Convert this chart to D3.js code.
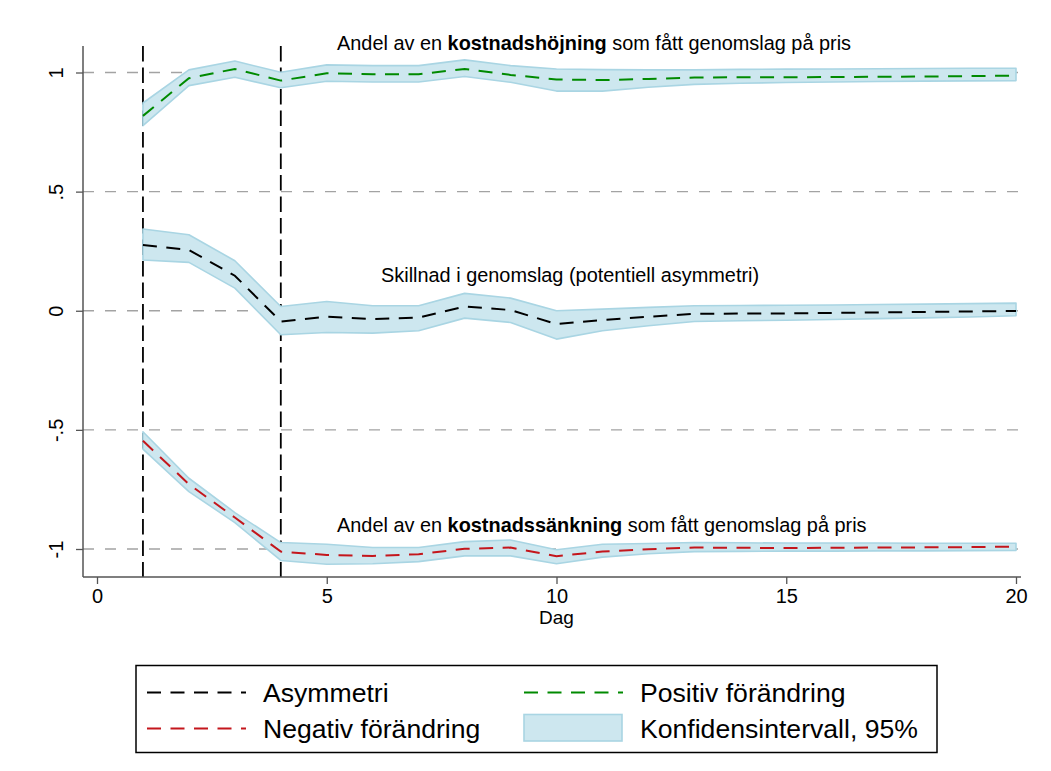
<!DOCTYPE html>
<html>
<head>
<meta charset="utf-8">
<script src="https://cdn.jsdelivr.net/npm/d3@7"></script>
<style>
  html, body { margin: 0; padding: 0; background: #fff; }
  svg { display: block; font-family: "Liberation Sans", Arial, Helvetica, sans-serif; }
</style>
</head>
<body>
<svg id="chart" width="1051" height="771"></svg>
<script>
// Dagar efter kostnadsförändringen
const days = [1, 2, 3, 4, 5, 6, 7, 8, 9, 10, 11, 12, 13, 14, 15, 16, 17, 18, 19, 20];

// Positiv förändring (kostnadshöjning): skattning och 95 % konfidensintervall
const posEst   = [0.818, 0.976, 1.015, 0.966, 0.997, 0.993, 0.993, 1.015, 0.990, 0.971, 0.968, 0.973, 0.979, 0.980, 0.980, 0.981, 0.982, 0.983, 0.985, 0.987];
const posLower = [0.777, 0.945, 0.980, 0.936, 0.963, 0.960, 0.960, 0.983, 0.959, 0.922, 0.922, 0.938, 0.950, 0.955, 0.958, 0.960, 0.962, 0.964, 0.965, 0.966];
const posUpper = [0.872, 1.011, 1.048, 1.001, 1.032, 1.029, 1.029, 1.053, 1.029, 1.015, 1.012, 1.011, 1.011, 1.013, 1.014, 1.015, 1.016, 1.017, 1.018, 1.018];

// Asymmetri (skillnad i genomslag)
const asymEst   = [0.276, 0.255, 0.147, -0.045, -0.025, -0.035, -0.029, 0.018, 0.003, -0.056, -0.039, -0.025, -0.013, -0.012, -0.011, -0.009, -0.007, -0.005, -0.003, -0.001];
const asymLower = [0.213, 0.203, 0.095, -0.101, -0.091, -0.094, -0.084, -0.031, -0.049, -0.119, -0.084, -0.063, -0.045, -0.042, -0.040, -0.037, -0.033, -0.030, -0.026, -0.021];
const asymUpper = [0.343, 0.319, 0.210, 0.018, 0.039, 0.021, 0.021, 0.073, 0.053, 0.000, 0.007, 0.014, 0.021, 0.022, 0.023, 0.024, 0.026, 0.028, 0.030, 0.032];

// Negativ förändring (kostnadssänkning)
const negEst   = [-0.546, -0.728, -0.868, -1.011, -1.025, -1.029, -1.022, -0.999, -0.994, -1.030, -1.011, -1.001, -0.994, -0.995, -0.996, -0.995, -0.994, -0.993, -0.992, -0.990];
const negLower = [-0.581, -0.759, -0.889, -1.048, -1.064, -1.062, -1.053, -1.029, -1.029, -1.062, -1.034, -1.020, -1.011, -1.010, -1.009, -1.009, -1.008, -1.008, -1.007, -1.006];
const negUpper = [-0.508, -0.703, -0.847, -0.973, -0.980, -0.994, -0.994, -0.969, -0.962, -1.003, -0.980, -0.977, -0.973, -0.974, -0.975, -0.975, -0.975, -0.976, -0.976, -0.976];

// Axlar och markerade dagar
const xTicks = [0, 5, 10, 15, 20];
const yTicks = [-1, -0.5, 0, 0.5, 1];
const yTickLabels = ["-1", "-.5", "0", ".5", "1"];
const markedDays = [1, 4];
const xTitle = "Dag";

const legendItems = [
  { label: "Asymmetri", kind: "line", color: "#000000" },
  { label: "Positiv förändring", kind: "line", color: "#008a00" },
  { label: "Negativ förändring", kind: "line", color: "#c4161c" },
  { label: "Konfidensintervall, 95%", kind: "band" }
];

const BAND_FILL = "#cde7ef";
const BAND_EDGE = "#a9d5e3";
const SERIES_DASH = "14,9.5";

const svg = d3.select("#chart");

const x = d3.scaleLinear().domain([0, 20]).range([97, 1016]);
const y = d3.scaleLinear().domain([-1, 1]).range([549, 72.5]);

const plotLeft = 83, plotRight = 1021, plotTop = 46, plotBottom = 577;

// Rutnät (horisontella streckade linjer)
svg.append("g")
  .selectAll("line")
  .data(yTicks)
  .join("line")
  .attr("x1", plotLeft).attr("x2", plotRight)
  .attr("y1", d => y(d)).attr("y2", d => y(d))
  .attr("stroke", "#a3a3a3")
  .attr("stroke-width", 1.3)
  .attr("stroke-dasharray", "11,11");

// Vertikala linjer vid dag 1 och 4
svg.append("g")
  .selectAll("line")
  .data(markedDays)
  .join("line")
  .attr("x1", d => x(d)).attr("x2", d => x(d))
  .attr("y1", plotTop).attr("y2", plotBottom)
  .attr("stroke", "#000")
  .attr("stroke-width", 1.8)
  .attr("stroke-dasharray", "15.5,6");

const series = [
  { est: posEst, lo: posLower, hi: posUpper, color: "#008a00" },
  { est: asymEst, lo: asymLower, hi: asymUpper, color: "#000000" },
  { est: negEst, lo: negLower, hi: negUpper, color: "#c4161c" }
];

const area = d3.area()
  .x((d, i) => x(days[i]))
  .y0(d => y(d[0]))
  .y1(d => y(d[1]));

const line = d3.line()
  .x((d, i) => x(days[i]))
  .y(d => y(d));

// Konfidensband
series.forEach(s => {
  svg.append("path")
    .datum(s.lo.map((v, i) => [v, s.hi[i]]))
    .attr("d", area)
    .attr("fill", BAND_FILL)
    .attr("stroke", BAND_EDGE)
    .attr("stroke-width", 1.6)
    .attr("stroke-linejoin", "round");
});

// Skattningar
series.forEach(s => {
  svg.append("path")
    .datum(s.est)
    .attr("d", line)
    .attr("fill", "none")
    .attr("stroke", s.color)
    .attr("stroke-width", 2)
    .attr("stroke-dasharray", SERIES_DASH);
});

// Axlar
const axisColor = "#555";
const xAxis = svg.append("g")
  .attr("transform", `translate(0,${plotBottom})`)
  .call(d3.axisBottom(x).tickValues(xTicks).tickSize(7).tickPadding(5).tickFormat(d3.format("d")));
xAxis.select(".domain").remove();
xAxis.selectAll(".tick line").attr("stroke", axisColor).attr("stroke-width", 1.3);
xAxis.selectAll(".tick text")
  .attr("font-size", 20).attr("fill", "#000")
  .attr("font-family", "Liberation Sans, Arial, sans-serif");

const yAxis = svg.append("g")
  .attr("transform", `translate(${plotLeft},0)`)
  .call(d3.axisLeft(y).tickValues(yTicks).tickSize(7).tickFormat((d, i) => yTickLabels[i]));
yAxis.select(".domain").remove();
yAxis.selectAll(".tick line").attr("stroke", axisColor).attr("stroke-width", 1.3);
yAxis.selectAll(".tick text")
  .attr("font-size", 20).attr("fill", "#000")
  .attr("font-family", "Liberation Sans, Arial, sans-serif")
  .attr("x", null).attr("dy", null)
  .attr("text-anchor", "middle")
  .attr("transform", "translate(-20,0) rotate(-90)");

svg.append("line")
  .attr("x1", plotLeft).attr("x2", plotRight)
  .attr("y1", plotBottom).attr("y2", plotBottom)
  .attr("stroke", axisColor).attr("stroke-width", 1.5);
svg.append("line")
  .attr("x1", plotLeft).attr("x2", plotLeft)
  .attr("y1", plotTop).attr("y2", plotBottom)
  .attr("stroke", axisColor).attr("stroke-width", 1.5);

svg.append("text")
  .attr("x", x(10)).attr("y", 624)
  .attr("text-anchor", "middle")
  .attr("font-size", 19)
  .text(xTitle);

// Etiketter i diagrammet
function annotate(xp, yp, parts) {
  const t = svg.append("text").attr("x", xp).attr("y", yp).attr("font-size", 19.9);
  parts.forEach(p => {
    t.append("tspan").attr("font-weight", p.bold ? "bold" : "normal").text(p.text);
  });
}
annotate(337, 50, [
  { text: "Andel av en " }, { text: "kostnadshöjning", bold: true }, { text: " som fått genomslag på pris" }
]);
annotate(381, 282, [{ text: "Skillnad i genomslag (potentiell asymmetri)" }]);
annotate(337, 531.5, [
  { text: "Andel av en " }, { text: "kostnadssänkning", bold: true }, { text: " som fått genomslag på pris" }
]);

// Förklaring
const legend = svg.append("g");
legend.append("rect")
  .attr("x", 136).attr("y", 665.5)
  .attr("width", 801).attr("height", 87)
  .attr("fill", "#fff").attr("stroke", "#000").attr("stroke-width", 1.5);

const colX = [147, 524];
const rowY = [692.5, 728.5];
legendItems.forEach((item, i) => {
  const cx = colX[i % 2];
  const cy = rowY[Math.floor(i / 2)];
  if (item.kind === "line") {
    legend.append("line")
      .attr("x1", cx).attr("x2", cx + 99)
      .attr("y1", cy).attr("y2", cy)
      .attr("stroke", item.color).attr("stroke-width", 2)
      .attr("stroke-dasharray", SERIES_DASH);
  } else {
    legend.append("rect")
      .attr("x", cx).attr("y", cy - 14)
      .attr("width", 98).attr("height", 26.5)
      .attr("fill", BAND_FILL).attr("stroke", BAND_EDGE).attr("stroke-width", 1.6);
  }
  legend.append("text")
    .attr("x", cx + 116).attr("y", cy + 9)
    .attr("font-size", 26.6)
    .text(item.label);
});
</script>
</body>
</html>
